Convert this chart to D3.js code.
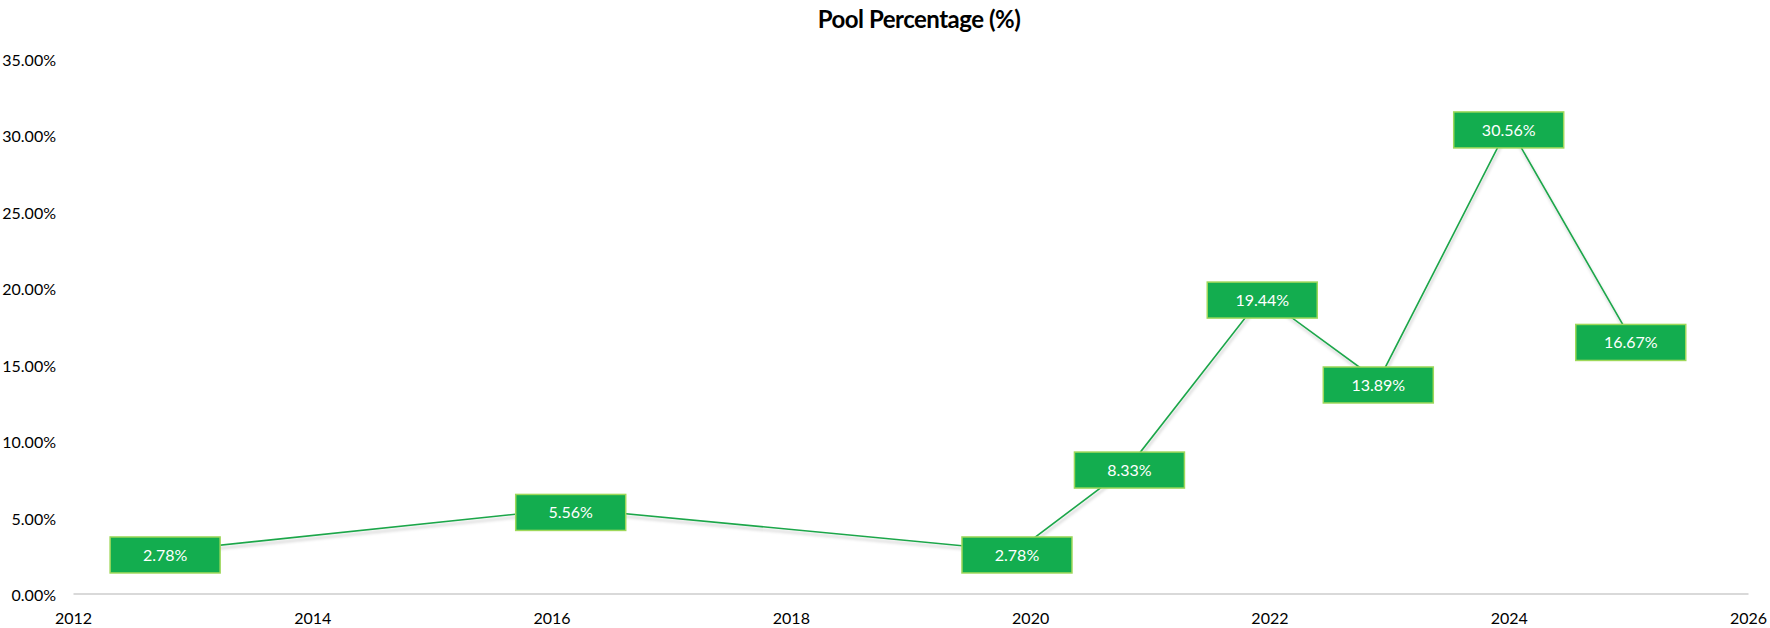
<!DOCTYPE html>
<html><head><meta charset="utf-8">
<script src="https://cdn.jsdelivr.net/npm/d3@7"></script>
<style>
body{margin:0;background:#fff;}
text{font-family:Lato,"Noto Sans",sans-serif;}
</style>
</head><body>
<svg id="chart" width="1770" height="628"></svg>
<script>
// Data
const years = [2012.77, 2016.16, 2019.89, 2020.83, 2021.94, 2022.91, 2024.0, 2025.02];
const values = [2.78, 5.56, 2.78, 8.33, 19.44, 13.89, 30.56, 16.67];
const valueLabels = ["2.78%", "5.56%", "2.78%", "8.33%", "19.44%", "13.89%", "30.56%", "16.67%"];
const xTickValues = [2012, 2014, 2016, 2018, 2020, 2022, 2024, 2026];
const yTickValues = [0, 5, 10, 15, 20, 25, 30, 35];
const yTickLabels = ["0.00%", "5.00%", "10.00%", "15.00%", "20.00%", "25.00%", "30.00%", "35.00%"];
const title = "Pool Percentage (%)";

const svg = d3.select("#chart");
const W = 1770, H = 628;
svg.append("rect").attr("width", W).attr("height", H).attr("fill", "#fff");

const x = d3.scaleLinear().domain([2012, 2026]).range([73, 1748]);
const y = d3.scaleLinear().domain([0, 35]).range([593.5, 58]);

const defs = svg.append("defs");
const f = defs.append("filter").attr("id", "shadow").attr("x", "-10%").attr("y", "-10%").attr("width", "120%").attr("height", "130%");
f.append("feDropShadow").attr("dx", 1).attr("dy", 3).attr("stdDeviation", 1.6)
  .attr("flood-color", "#000").attr("flood-opacity", 0.22);

// Title
svg.append("text").attr("x", 919).attr("y", 28).attr("text-anchor", "middle")
  .attr("font-size", 24).attr("font-weight", 700).attr("letter-spacing", -0.5)
  .attr("fill", "#000").text(title);

// Y axis (labels only)
const yAxis = d3.axisLeft(y).tickValues(yTickValues).tickFormat((d, i) => yTickLabels[i]).tickSize(0).tickPadding(0);
const gy = svg.append("g").attr("transform", "translate(56,2)").call(yAxis);
gy.select(".domain").remove();
gy.selectAll("text").attr("font-size", 16).attr("fill", "#000").style("font-family", "Lato");

// X axis
const xAxis = d3.axisBottom(x).tickValues(xTickValues).tickFormat(d3.format("d")).tickSize(0).tickPadding(0);
const gx = svg.append("g").attr("transform", `translate(0,${y(0)})`).call(xAxis);
gx.select(".domain").attr("stroke", "#d9d9d9").attr("stroke-width", 2);
gx.selectAll("text").attr("font-size", 16).attr("fill", "#000").attr("dy", "1.9em").style("font-family", "Lato");

// Line
const pts = years.map((yr, i) => [yr, values[i]]);
const line = d3.line().x(d => x(d[0])).y(d => y(d[1]));
svg.append("path").datum(pts).attr("d", line).attr("fill", "none")
  .attr("stroke", "#1ca64a").attr("stroke-width", 1.6).attr("filter", "url(#shadow)");

// Labels
const bw = 110, bh = 36, off = 4;
const lg = svg.append("g").selectAll("g").data(pts).join("g")
  .attr("transform", d => `translate(${x(d[0])},${y(d[1]) + off})`);
lg.append("rect").attr("x", -bw / 2).attr("y", -bh / 2).attr("width", bw).attr("height", bh)
  .attr("fill", "#13ad4f").attr("stroke", "#9ed85a").attr("stroke-width", 1.5);
lg.append("text").attr("text-anchor", "middle").attr("dy", "0.36em")
  .attr("font-size", 16).attr("fill", "#fff").text((d, i) => valueLabels[i]);
</script>
</body></html>
